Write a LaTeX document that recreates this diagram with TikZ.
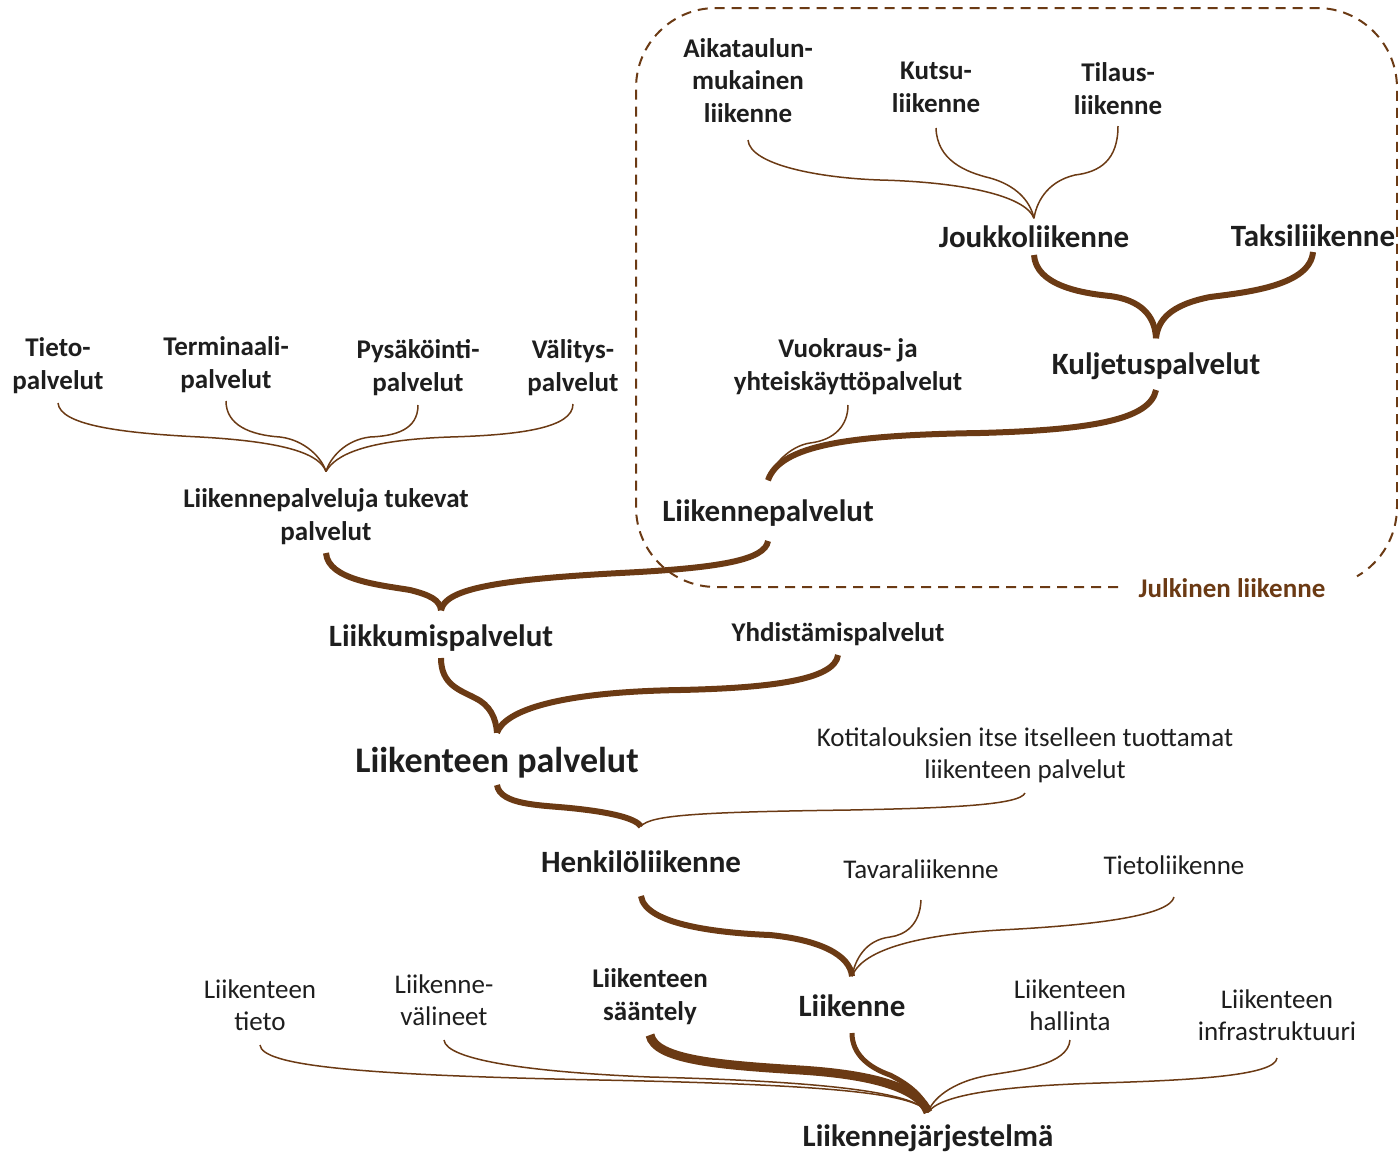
\documentclass[tikz,border=0pt]{standalone}
\usepackage{fontspec}
\setmainfont{Carlito}
\definecolor{brn}{RGB}{107,58,20}
\definecolor{txt}{RGB}{30,30,30}
\begin{document}
\begin{tikzpicture}[x=0.5pt,y=-0.5pt,
  base/.style={inner sep=0pt, outer sep=0pt, text depth=0pt, align=center, text=txt, anchor=south},
  lbl/.style={base, font=\fontsize{13.5}{16.25}\selectfont\bfseries},
  lblr/.style={base, font=\fontsize{13.5}{16}\selectfont},
  mid/.style={base, font=\fontsize{15.5}{18}\selectfont\bfseries},
  big/.style={base, font=\fontsize{18}{21}\selectfont\bfseries},
  cthin/.style={draw=brn, line width=0.75pt},
  cthick/.style={draw=brn, line width=3pt},
  cmed/.style={draw=brn, line width=2.5pt},
  cheavy/.style={draw=brn, line width=4.5pt},
  dbox/.style={draw=brn, line width=1pt, dash pattern=on 5pt off 3.5pt},
]
\useasboundingbox (0,0) rectangle (1398,1152);

% dashed region
\draw[dbox] (1118,587) -- (716,587) arc[start angle=90,end angle=180,radius=80]
  -- (636,88) arc[start angle=180,end angle=270,radius=80]
  -- (1317,8) arc[start angle=270,end angle=360,radius=80]
  -- (1397,507) arc[start angle=0,end angle=60,radius=80];
\node[lbl, text=brn] (jul) at (1232,597) {Julkinen liikenne};

% nodes
\node[lbl] (aik) at (748,122) {Aikataulun-\\mukainen\\liikenne};
\node[lbl] (kut) at (936,112) {Kutsu-\\liikenne};
\node[lbl] (til) at (1118,114) {Tilaus-\\liikenne};
\node[mid] (jou) at (1034,247) {Joukkoliikenne};
\node[mid] (tak) at (1313,246) {Taksiliikenne};
\node[mid] (kul) at (1156,374) {Kuljetuspalvelut};
\node[lbl] (vuo) at (848,390) {Vuokraus- ja\\yhteiskäyttöpalvelut};
\node[mid] (lp) at (768,521) {Liikennepalvelut};
\node[lbl] (tie) at (58,389) {Tieto-\\palvelut};
\node[lbl] (ter) at (226,388) {Terminaali-\\palvelut};
\node[lbl] (pys) at (418,391) {Pysäköinti-\\palvelut};
\node[lbl] (val) at (573,391) {Välitys-\\palvelut};
\node[lbl] (lpt) at (326,540) {Liikennepalveluja tukevat\\palvelut};
\node[mid] (lkm) at (441,646) {Liikkumispalvelut};
\node[lbl] (yhd) at (838,641) {Yhdistämispalvelut};
\node[big] (ltp) at (497,772) {Liikenteen palvelut};
\node[lblr] (kot) at (1025,778) {Kotitalouksien itse itselleen tuottamat\\liikenteen palvelut};
\node[mid] (hen) at (641,872) {Henkilöliikenne};
\node[lblr] (tav) at (921,878) {Tavaraliikenne};
\node[lblr] (tli) at (1174,874) {Tietoliikenne};
\node[lblr] (lti) at (260,1030) {Liikenteen\\tieto};
\node[lblr] (lve) at (444,1025) {Liikenne-\\välineet};
\node[lbl] (lsa) at (650,1020) {Liikenteen\\sääntely};
\node[mid] (lii) at (852,1016) {Liikenne};
\node[lblr] (lha) at (1070,1030) {Liikenteen\\hallinta};
\node[lblr] (lin) at (1277,1040) {Liikenteen\\infrastruktuuri};
\node[mid] (ljs) at (928,1146) {Liikennejärjestelmä};

% connectors: top cluster
\draw[cthin] ([yshift=-9pt]aik.south) .. controls (750,165) and (820,178) .. (880,180) .. controls (960,182) and (1025,195) .. ([yshift=3.5pt]jou.north);
\draw[cthin] ([yshift=-8pt]kut.south) .. controls (937,160) and (965,172) .. (990,178) .. controls (1015,185) and (1030,200) .. ([yshift=3.5pt]jou.north);
\draw[cthin] ([yshift=-6pt]til.south) .. controls (1118,160) and (1100,172) .. (1075,175) .. controls (1045,182) and (1036,205) .. ([yshift=3.5pt]jou.north);

\draw[cthick] ([yshift=-4pt]jou.south) .. controls (1036,285) and (1080,293) .. (1110,296) .. controls (1140,300) and (1155,315) .. ([yshift=7pt]kul.north);
\draw[cthick] ([yshift=-3pt]tak.south) .. controls (1310,285) and (1250,292) .. (1210,297) .. controls (1170,305) and (1158,320) .. ([yshift=7pt]kul.north);

\draw[cthick] ([yshift=-8pt]kul.south) .. controls (1150,420) and (1090,430) .. (980,433) .. controls (850,435) and (780,445) .. ([yshift=9.5pt]lp.north);
\draw[cthin] ([yshift=-7.5pt]vuo.south) .. controls (848,425) and (835,440) .. (810,443) .. controls (790,446) and (772,465) .. ([yshift=9.5pt]lp.north);

% left cluster
\draw[cthin] ([yshift=-7pt]tie.south) .. controls (60,425) and (120,433) .. (200,437) .. controls (290,442) and (320,455) .. ([yshift=8.5pt]lpt.north);
\draw[cthin] ([yshift=-6.5pt]ter.south) .. controls (226,425) and (250,435) .. (280,437) .. controls (305,440) and (322,458) .. ([yshift=8.5pt]lpt.north);
\draw[cthin] ([yshift=-7pt]pys.south) .. controls (418,430) and (395,436) .. (370,437) .. controls (345,440) and (330,458) .. ([yshift=8.5pt]lpt.north);
\draw[cthin] ([yshift=-6.5pt]val.south) .. controls (573,428) and (520,435) .. (450,437) .. controls (365,440) and (335,455) .. ([yshift=8.5pt]lpt.north);

\draw[cthick] ([yshift=-10pt]lp.south) .. controls (765,560) and (720,568) .. (620,573) .. controls (490,580) and (445,590) .. ([yshift=7pt]lkm.north);
\draw[cthick] ([yshift=-6.5pt]lpt.south) .. controls (328,580) and (380,585) .. (410,590) .. controls (430,595) and (440,600) .. ([yshift=7pt]lkm.north);

\draw[cthick] ([yshift=-6pt]lkm.south) .. controls (441,685) and (460,690) .. (475,698) .. controls (490,705) and (496,718) .. ([yshift=7pt]ltp.north);
\draw[cthick] ([yshift=-7pt]yhd.south) .. controls (835,680) and (770,688) .. (680,690) .. controls (560,692) and (505,710) .. ([yshift=7pt]ltp.north);

\draw[cthick] ([yshift=-6.5pt]ltp.south) .. controls (500,805) and (540,805) .. (570,808) .. controls (610,812) and (635,818) .. ([yshift=12pt]hen.north);
\draw[cthin] ([yshift=-7.5pt]kot.south) .. controls (1020,805) and (950,808) .. (850,810) .. controls (700,812) and (650,815) .. ([yshift=12pt]hen.north);

\draw[cthick] ([yshift=-12pt]hen.south) .. controls (645,925) and (720,933) .. (770,935) .. controls (820,940) and (850,955) .. ([yshift=9pt]lii.north);
\draw[cthin] ([yshift=-11pt]tav.south) .. controls (920,925) and (905,935) .. (890,937) .. controls (865,940) and (855,960) .. ([yshift=9pt]lii.north);
\draw[cthin] ([yshift=-11.5pt]tli.south) .. controls (1170,915) and (1100,925) .. (1000,930) .. controls (900,936) and (860,955) .. ([yshift=9pt]lii.north);

% bottom cluster
\draw[cthin] ([yshift=-7.5pt]lti.south) .. controls (262,1065) and (350,1075) .. (600,1080) .. controls (850,1085) and (915,1095) .. ([yshift=6pt]ljs.north);
\draw[cthin] ([yshift=-7.5pt]lve.south) .. controls (446,1060) and (530,1072) .. (650,1077) .. controls (850,1082) and (915,1095) .. ([yshift=6pt]ljs.north);
\draw[cheavy] ([yshift=-7.5pt]lsa.south) .. controls (655,1060) and (720,1065) .. (800,1070) .. controls (880,1075) and (920,1090) .. ([yshift=6pt]ljs.north);
\draw[cmed] ([yshift=-8.5pt]lii.south) .. controls (852,1055) and (870,1068) .. (890,1075) .. controls (910,1085) and (925,1098) .. ([yshift=6pt]ljs.north);
\draw[cthin] ([yshift=-5pt]lha.south) .. controls (1068,1065) and (1020,1070) .. (990,1075) .. controls (950,1082) and (932,1100) .. ([yshift=6pt]ljs.north);
\draw[cthin] ([yshift=-9pt]lin.south) .. controls (1275,1075) and (1200,1080) .. (1100,1083) .. controls (1000,1086) and (940,1095) .. ([yshift=6pt]ljs.north);
\end{tikzpicture}
\end{document}
